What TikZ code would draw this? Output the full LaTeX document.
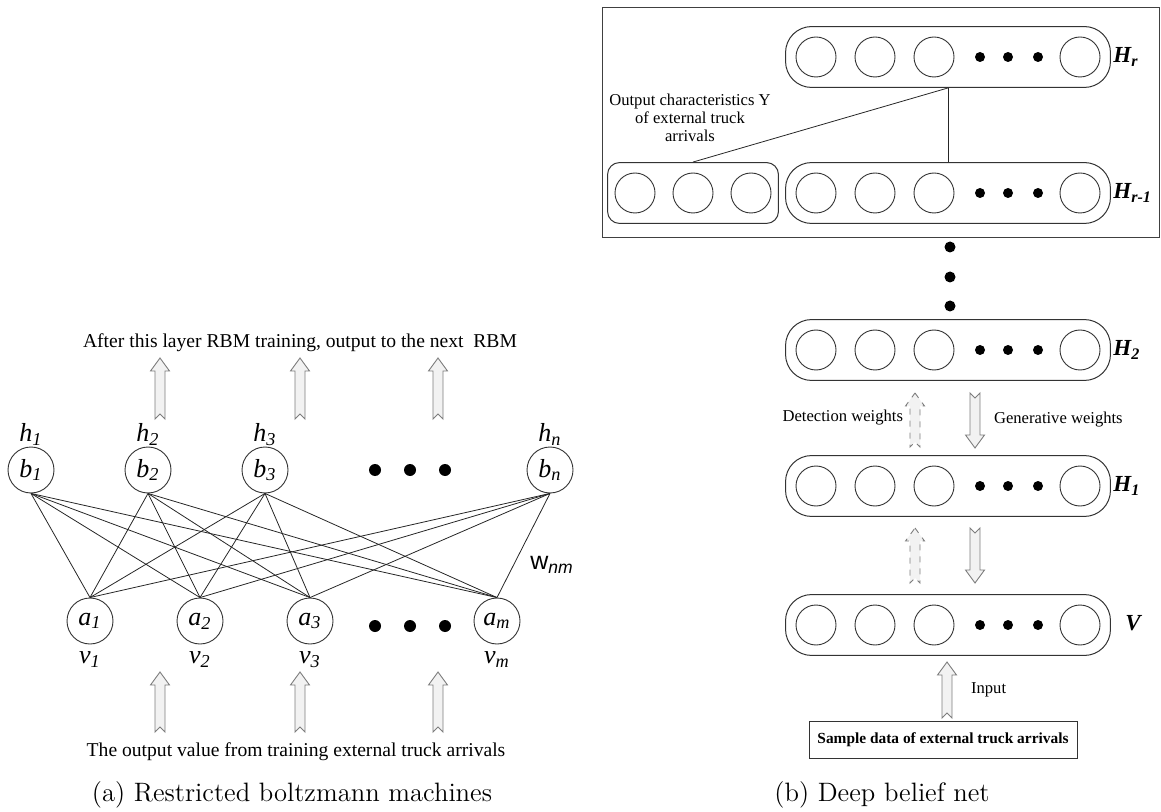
\documentclass[tikz,border=0pt]{standalone}
\usepackage{fontspec}
\newfontfamily\tnr{Liberation Serif}
\newfontfamily\arl{Liberation Sans}
\usetikzlibrary{positioning,fit,calc}

\definecolor{arrfill}{RGB}{242,242,242}
\definecolor{arrline}{RGB}{125,125,125}

\newcommand{\unitlab}[2]{{\tnr\itshape #1\textsubscript{#2}}}
\newcommand{\layerlab}[2]{{\tnr\bfseries\itshape #1\textsubscript{#2}}}
% hollow block arrow: [style] x, tip y, tail y
\newcommand{\blockarrow}[4][]{%
  \pgfmathsetmacro{\dd}{sign(#4-#3)}%
  \draw[blockarr,#1] (#2,#3) -- ({#2+9.5},{#3+13*\dd}) -- ({#2+5},{#3+13*\dd}) -- ({#2+5},#4)
    -- (#2,{#4-5*\dd}) -- ({#2-5},#4) -- ({#2-5},{#3+13*\dd}) -- ({#2-9.5},{#3+13*\dd}) -- cycle;}

\begin{document}
\begin{tikzpicture}[x=0.5pt,y=-0.5pt,
    unit/.style={circle,draw=black!80,line width=0.45pt,minimum size=23pt,inner sep=0pt,font=\fontsize{13}{15}\selectfont},
    neuron/.style={circle,draw=black!80,line width=0.45pt,minimum size=20pt,inner sep=0pt},
    layer/.style={draw=black!80,line width=0.5pt,rounded corners=13pt,inner xsep=5pt,inner ysep=5pt},
    link/.style={black!85,line width=0.4pt},
    blockarr/.style={draw=arrline,fill=arrfill,line width=0.45pt},
    txt/.style={font=\tnr\fontsize{9.8}{11}\selectfont},
    small/.style={font=\tnr\fontsize{8.3}{9}\selectfont},
    lab/.style={font=\fontsize{13}{15}\selectfont},
    caption/.style={font=\fontsize{13.3}{15}\selectfont}]
  \useasboundingbox (0,0) rectangle (1161,812);

  % (a) hidden and visible units
  \foreach \n/\xx/\s in {b1/31/1, b2/148/2, b3/265/3, bn/550/n}
    \node[unit,label={[lab,label distance=-3pt]above:\unitlab{h}{\s}}] (\n) at (\xx,470) {\unitlab{b}{\s}};
  \foreach \n/\xx/\s in {a1/90/1, a2/200/2, a3/310/3, am/497/m}
    \node[unit,label={[lab,label distance=0pt]below:\unitlab{v}{\s}}] (\n) at (\xx,621) {\unitlab{a}{\s}};
  \foreach \xx in {375,410,445} {
    \fill (\xx,470) circle (6);
    \fill (\xx,626) circle (6);
  }
  \foreach \h in {b1,b2,b3,bn}
    \foreach \v in {a1,a2,a3,am}
      \draw[link] (\h.south) -- (\v.north);
  \node[font=\arl\fontsize{12.5}{14}\selectfont] (w) at (552,565) {w\textsubscript{\itshape nm}};

  \node[txt] (next) at (300,343) {After this layer RBM training, output to the next~ RBM};
  \node[txt] (input) at (296,752) {The output value from training external truck arrivals};
  \foreach \xx in {160,300,438} {
    \blockarrow{\xx}{358}{419}
    \blockarrow{\xx}{672}{732}
  }
  \node[caption] (capa) at (292,795) {(a) Restricted boltzmann machines};

  % (b) deep belief net
  \draw[black!75,line width=0.5pt] (602,8) rectangle (1159,238);
  \foreach \row/\yy in {top/57, sub/193, two/350, one/486, vis/625} {
    \node[neuron] (\row1) at (816,\yy) {};
    \node[neuron] (\row2) at (875,\yy) {};
    \node[neuron] (\row3) at (934,\yy) {};
    \node[neuron] (\row4) at (1080,\yy) {};
    \foreach \dx in {980,1008,1038} \fill (\dx,\yy) circle (5);
    \node[layer,fit=(\row1)(\row4)] (\row) {};
  }
  \node[neuron] (y1) at (635,193) {};
  \node[neuron] (y2) at (693,193) {};
  \node[neuron] (y3) at (751,193) {};
  \node[layer,rounded corners=6pt,inner xsep=3.5pt,fit=(y1)(y3)] (ychar) {};
  \node[small,align=center] (ylab) at (690,118) {Output characteristics Y\\of external truck\\arrivals};

  \node[right=0pt of top,inner sep=1pt,font=\fontsize{11.5}{13}\selectfont] (hr) {\layerlab{H}{r}};
  \node[right=0pt of sub,inner sep=1pt,font=\fontsize{11.5}{13}\selectfont] (hrm) {\layerlab{H}{r-1}};
  \node[right=0pt of two,inner sep=1pt,font=\fontsize{11.5}{13}\selectfont] (h2) {\layerlab{H}{2}};
  \node[right=0pt of one,inner sep=1pt,font=\fontsize{11.5}{13}\selectfont] (h1) {\layerlab{H}{1}};
  \node[right=6pt of vis,inner sep=1pt,font=\fontsize{11.5}{13}\selectfont] (hv) {\layerlab{V}{}};

  \draw[link] (top.south) -- (sub.north);
  \draw[link] (top.south) -- (ychar.north);
  \foreach \yy in {247,277,306} \fill (950,\yy) circle (5.5);

  \blockarrow{975}{448}{393}
  \blockarrow[dashed]{915}{393}{447}
  \blockarrow{975}{583}{528}
  \blockarrow[dashed]{915}{528}{583}
  \node[small,anchor=east] (det) at (910,418) {Detection weights};
  \node[small,anchor=west] (gen) at (987,420) {Generative weights};

  \node[draw=black!80,line width=0.5pt,minimum width=134pt,minimum height=18.5pt,font=\tnr\bfseries\fontsize{7.7}{9}\selectfont] (sample) at (943,740) {Sample data of external truck arrivals};
  \blockarrow{947}{662}{718}
  \node[small,anchor=west] (inp) at (964,690) {Input};
  \node[caption] (capb) at (882,795) {(b) Deep belief net};
\end{tikzpicture}
\end{document}
